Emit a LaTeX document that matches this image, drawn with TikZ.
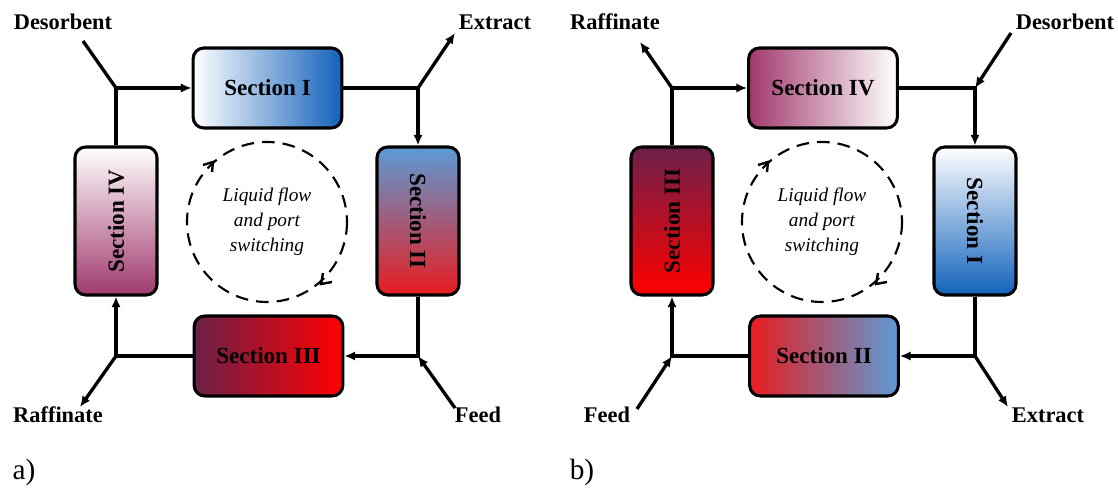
\documentclass[tikz,border=0pt]{standalone}
\usepackage{fontspec}
\setmainfont{Liberation Serif}
\usetikzlibrary{arrows.meta}
\definecolor{blueD}{RGB}{18,98,188}
\definecolor{blueL}{RGB}{91,155,213}
\definecolor{redS}{RGB}{232,28,32}
\definecolor{redF}{RGB}{255,0,0}
\definecolor{maroon}{RGB}{108,32,74}
\definecolor{mauve}{RGB}{160,58,110}
\tikzset{
  secbox/.style={draw, line width=2.3pt, rounded corners=8pt, inner sep=0pt,
    font=\bfseries\fontsize{17.3}{20}\selectfont},
  hbox/.style={secbox, minimum width=111.5pt, minimum height=60pt},
  vbox/.style={secbox, minimum width=61.5pt, minimum height=111pt},
  flow/.style={line width=2.5pt, -{Latex[length=8pt,width=7pt]}},
  plain/.style={line width=2.5pt},
  port/.style={font=\bfseries\fontsize{16.8}{20}\selectfont, inner sep=0pt},
  cyc/.style={line width=1.6pt, dash pattern=on 9.5pt off 6pt},
  cyctip/.style={line width=1.8pt, solid, line join=miter},
  circtext/.style={font=\itshape\fontsize{14.5}{18.8}\selectfont, align=center},
  panel/.style={font=\fontsize{22}{24}\selectfont, inner sep=0pt}
}
\begin{document}
\begin{tikzpicture}[x=0.75pt,y=-0.75pt]
\useasboundingbox (0,0) rectangle (1118,491);
% ---------- panel a ----------
\node[hbox, left color=white, right color=blueD] (a-s1) at (267.5,88) {Section I};
\node[vbox, top color=blueL, bottom color=redS] (a-s2) at (418,221) {\rotatebox{-90}{Section II}};
\node[hbox, left color=maroon, right color=redF] (a-s3) at (268.5,356) {Section III};
\node[vbox, top color=white, bottom color=mauve] (a-s4) at (116,221) {\rotatebox{90}{Section IV}};
\coordinate (a-tl) at (116,88);
\coordinate (a-tr) at (418,88);
\coordinate (a-br) at (418,356);
\coordinate (a-bl) at (116,356);
\draw[flow] (a-s4.north) |- (a-s1.west);
\draw[flow] (a-s1.east) -| (a-s2.north);
\draw[flow] (a-s2.south) |- (a-s3.east);
\draw[flow] (a-s3.west) -| (a-s4.south);
\coordinate (a-desin) at (83,41);
\coordinate (a-extout) at (455,33);
\coordinate (a-rafout) at (80,407);
\coordinate (a-feedin) at (455,408);
\draw[plain] (a-desin) -- (a-tl);
\draw[flow] (a-tr) -- (a-extout);
\draw[flow] (a-bl) -- (a-rafout);
\draw[flow] (a-feedin) -- (a-br);
\node[port] (a-des) at (63,22) {Desorbent};
\node[port] (a-ext) at (495,22) {Extract};
\node[port] (a-raf) at (58,415) {Raffinate};
\node[port] (a-feed) at (478,415) {Feed};
\coordinate (a-c) at (267,222);
\draw[cyc] (a-c) circle[radius=80];
% chevron tips (upper-left pointing up-right, lower-right pointing down-left)
\draw[cyctip] (a-c) ++(-64,-57) -- ++(10,-3) -- ++(-1,10);
\draw[cyctip] (a-c) ++(56,51) -- ++(-2,11) -- ++(11,-2);
\node[circtext] (a-txt) at (a-c) {Liquid flow\\and port\\switching};
\node[panel] (a-lab) at (24,472) {a)};
% ---------- panel b ----------
\node[hbox, left color=mauve, right color=white] (b-s4) at (823,88) {Section IV};
\node[vbox, top color=white, bottom color=blueD] (b-s1) at (975,221) {\rotatebox{-90}{Section I}};
\node[hbox, left color=redS, right color=blueL] (b-s2) at (824,356) {Section II};
\node[vbox, top color=maroon, bottom color=redF] (b-s3) at (672,221) {\rotatebox{90}{Section III}};
\coordinate (b-tl) at (672,88);
\coordinate (b-tr) at (975,88);
\coordinate (b-br) at (975,356);
\coordinate (b-bl) at (672,356);
\draw[flow] (b-s3.north) |- (b-s4.west);
\draw[flow] (b-s4.east) -| (b-s1.north);
\draw[flow] (b-s1.south) |- (b-s2.east);
\draw[flow] (b-s2.west) -| (b-s3.south);
\coordinate (b-rafout) at (640,42);
\coordinate (b-desin) at (1011,33);
\coordinate (b-extout) at (1008,407);
\coordinate (b-feedin) at (637,409);
\draw[flow] (b-tl) -- (b-rafout);
\draw[flow] (b-desin) -- (b-tr);
\draw[flow] (b-br) -- (b-extout);
\draw[flow] (b-feedin) -- (b-bl);
\node[port] (b-raf) at (615,22) {Raffinate};
\node[port] (b-des) at (1065,22) {Desorbent};
\node[port] (b-ext) at (1048,415) {Extract};
\node[port] (b-feed) at (607,415) {Feed};
\coordinate (b-c) at (822,222);
\draw[cyc] (b-c) circle[radius=80];
\draw[cyctip] (b-c) ++(-64,-57) -- ++(10,-3) -- ++(-1,10);
\draw[cyctip] (b-c) ++(56,51) -- ++(-2,11) -- ++(11,-2);
\node[circtext] (b-txt) at (b-c) {Liquid flow\\and port\\switching};
\node[panel] (b-lab) at (582,472) {b)};
\end{tikzpicture}
\end{document}
